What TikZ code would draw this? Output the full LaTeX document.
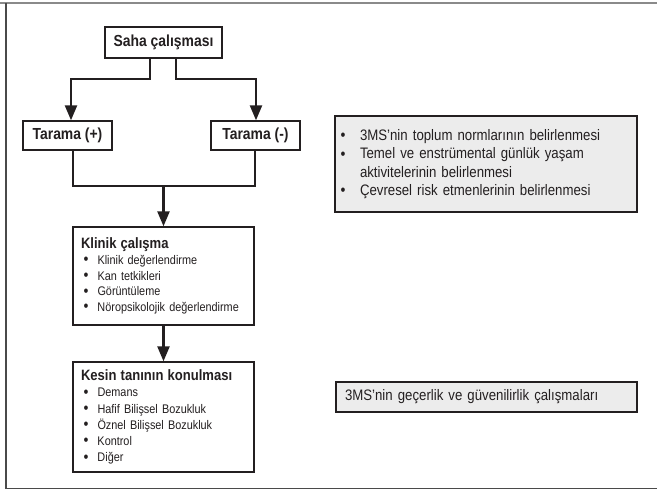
\documentclass[tikz,border=0pt]{standalone}
\usepackage{fontspec}
\setmainfont{Liberation Sans}[FakeStretch=0.87]
\usetikzlibrary{arrows.meta}
\definecolor{ink}{HTML}{231F20}
\definecolor{panel}{HTML}{ECECEC}
\definecolor{framegray}{HTML}{8A8A8A}
\definecolor{framedark}{HTML}{4A4A4A}
\newcommand{\bigbul}{{\fontsize{16}{16}\selectfont\raisebox{-0.4pt}{\textbullet}}}
\newcommand{\lbul}[1]{\makebox[16.5pt][l]{\hspace{2.5pt}\bigbul}#1}
\newcommand{\rbul}[1]{\makebox[19pt][l]{\hspace{-0.5pt}\bigbul}#1}
\newcommand{\boxtitle}[1]{{\bfseries\fontsize{15}{17}\selectfont #1}}
\begin{document}
\begin{tikzpicture}[x=1pt,y=-1pt,
  titlebox/.style={draw=ink,line width=1.4pt,fill=white,text=ink,inner sep=0pt,
    font=\bfseries\fontsize{16}{18}\selectfont},
  listbox/.style={draw=ink,line width=1.4pt,fill=white,text=ink,align=left,
    inner xsep=8pt,inner ysep=0pt,text width=165pt,minimum width=181pt},
  graybox/.style={draw=ink,line width=1.6pt,fill=panel,text=ink,align=left,
    inner ysep=0pt,font=\fontsize{15.2}{18.3}\selectfont},
  conn/.style={draw=ink,line width=2.4pt},
  arr/.style={conn,-{Triangle[width=12pt,length=15pt]}}]
\useasboundingbox (0,0) rectangle (657,490);
% frame
\draw[framegray,line width=2pt] (0,3) -- (657,3);
\draw[framedark,line width=1.5pt] (6,3) -- (6,488.5);
\draw[framedark,line width=1.8pt] (6,488.5) -- (657,488.5);
% nodes
\node[titlebox,minimum width=117pt,minimum height=31pt] (saha) at (163.5,42.5) {Saha çalışması};
\node[titlebox,minimum width=89pt,minimum height=29pt] (tp) at (67.5,135.5) {Tarama (+)};
\node[titlebox,minimum width=89pt,minimum height=29pt] (tm) at (255.5,135.5) {Tarama (-)};
\node[listbox,minimum height=98pt,font=\fontsize{12.5}{15.6}\selectfont] (klinik) at (163.5,276) {%
  \boxtitle{Klinik çalışma}\\
  \lbul{Klinik değerlendirme}\\
  \lbul{Kan tetkikleri}\\
  \lbul{Görüntüleme}\\
  \lbul{Nöropsikolojik değerlendirme}};
\node[listbox,minimum height=110pt,font=\fontsize{12.5}{16.2}\selectfont] (kesin) at (163.5,417) {%
  \boxtitle{Kesin tanının konulması}\\
  \lbul{Demans}\\
  \lbul{Hafif Bilişsel Bozukluk}\\
  \lbul{Öznel Bilişsel Bozukluk}\\
  \lbul{Kontrol}\\
  \lbul{Diğer}};
\node[graybox,inner xsep=6pt,text width=290pt,minimum width=302pt,minimum height=96pt] (norms) at (486,164) {%
  \rbul{3MS’nin toplum normlarının belirlenmesi}\\
  \rbul{Temel ve enstrümental günlük yaşam}\\
  \makebox[19pt]{}aktivitelerinin belirlenmesi\\
  \rbul{Çevresel risk etmenlerinin belirlenmesi}};
\node[graybox,inner xsep=9pt,text width=283pt,minimum width=301pt,minimum height=30pt] (valid) at (486.5,397) {%
  3MS’nin geçerlik ve güvenilirlik çalışmaları};
% connectors
\draw[arr] ([xshift=-13.5pt]saha.south) -- ++(0,20) -| ([xshift=3.5pt]tp.north);
\draw[arr] ([xshift=12.5pt]saha.south) -- ++(0,20) -| ([xshift=0.5pt]tm.north);
\coordinate (join) at (163.5,186);
\draw[conn] ([xshift=5.5pt]tp.south) |- (join) -| ([xshift=-0.5pt]tm.south);
\draw[arr] (join) -- (klinik.north);
\draw[arr] (klinik.south) -- (kesin.north);
\end{tikzpicture}
\end{document}
